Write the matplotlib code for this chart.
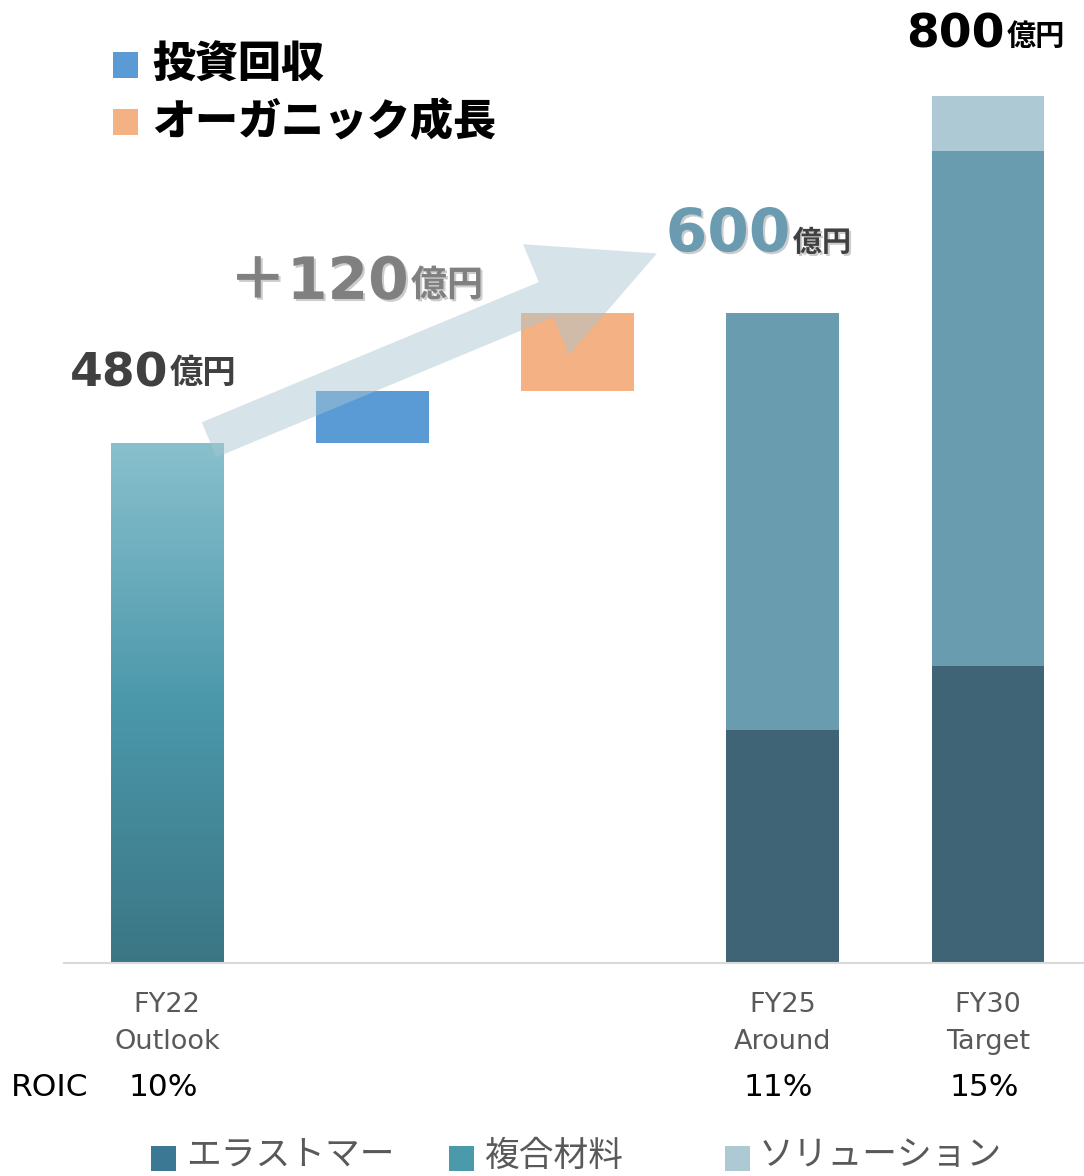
import numpy as np
import matplotlib
matplotlib.use("Agg")
import matplotlib.pyplot as plt
import matplotlib.patheffects as pe
from matplotlib.colors import LinearSegmentedColormap
from matplotlib.patches import Rectangle, Polygon
from matplotlib.transforms import blended_transform_factory

# ---- data (億円) ----
fy22_total = 480
bridge_labels = ["投資回収", "オーガニック成長"]
bridge_values = [48, 72]
bridge_colors = ["#5b9bd5", "#f4b183"]
segments = ["エラストマー", "複合材料", "ソリューション"]
seg_colors = ["#3e6475", "#699caf", "#adc9d4"]
legend_colors = ["#3a7893", "#4a9aab", "#adc9d4"]
fy25_values = [215, 385, 0]
fy30_values = [274, 476, 50]
tick_pos = [0, 3, 4]
tick_labels = ["FY22\nOutlook", "FY25\nAround", "FY30\nTarget"]
roic_values = ["10%", "11%", "15%"]

W_PX, H_PX = 1084, 1176
JP = "Noto Sans CJK JP"
NUM = ["DejaVu Sans", JP]
BAR_W = 0.55


def fx(x):
    return x / W_PX


def fy(y):
    return 1 - y / H_PX


fig = plt.figure(figsize=(W_PX / 100, H_PX / 100), dpi=100)
ax = fig.add_axes([fx(64), fy(963), 1 - fx(64), 963 / H_PX])
ax.set_xlim(-0.502, 4.468)
ax.set_ylim(0, 889)

# FY22 bar with vertical gradient
bar0 = ax.bar(0, fy22_total, width=BAR_W, color="none", zorder=2)[0]
grad = LinearSegmentedColormap.from_list("g", ["#3b7684", "#4b98ab", "#89c0cd"])
img = ax.imshow(np.linspace(0, 1, 256).reshape(-1, 1), cmap=grad, origin="lower",
                aspect="auto", extent=(-BAR_W / 2, BAR_W / 2, 0, fy22_total), zorder=2)
img.set_clip_path(bar0)

# bridge bars
bottom = fy22_total
for i, (v, c) in enumerate(zip(bridge_values, bridge_colors)):
    ax.bar(i + 1, v, bottom=bottom, width=BAR_W, color=c, zorder=2)
    bottom += v

# stacked target bars
for x, vals in [(3, fy25_values), (4, fy30_values)]:
    b = 0
    for v, c in zip(vals, seg_colors):
        if v:
            ax.bar(x, v, bottom=b, width=BAR_W, color=c, zorder=2)
        b += v

# growth arrow (built in pixel space from two data anchors)
tail = ax.transData.transform((0.205, 483))
tip = ax.transData.transform((2.387, 655))
d = (tip - tail) / np.hypot(*(tip - tail))
n = np.array([-d[1], d[0]])
shaft, head_w, head_l = 19, 60, 120
base = tip - d * head_l
verts = [tail + n * shaft, base + n * shaft, base + n * head_w, tip,
         base - n * head_w, base - n * shaft, tail - n * shaft]
verts = ax.transData.inverted().transform(np.array(verts))
ax.add_patch(Polygon(verts, closed=True, facecolor="#a8c6d2", edgecolor="none",
                     alpha=0.47, zorder=3))

# axis styling
for s in ["top", "right", "left"]:
    ax.spines[s].set_visible(False)
ax.spines["bottom"].set_color("#d9d9d9")
ax.spines["bottom"].set_linewidth(1.5)
ax.set_yticks([])
ax.set_xticks(tick_pos, tick_labels)
ax.tick_params(axis="x", length=0, pad=21, labelsize=19.5, labelcolor="#595959")
for t in ax.get_xticklabels():
    t.set_linespacing(1.55)

# value labels
shadow = [pe.withSimplePatchShadow(offset=(1.5, -1.5), shadow_rgbFace="#000000", alpha=0.2)]


def value_label(x, y, num, unit, size, usize, color, ucolor, effects=None):
    t = ax.text(x, y, num, fontsize=size, fontweight="bold", color=color,
                family=NUM, ha="left", va="baseline", zorder=5, path_effects=effects)
    ax.annotate(unit, xy=(1, 0), xycoords=t, xytext=(1.5, 5), textcoords="offset points",
                fontsize=usize, fontweight="bold", color=ucolor, family=JP,
                ha="left", va="bottom", zorder=5, path_effects=effects)


value_label(-0.475, 532, "480", "億円", 34, 24, "#404040", "#404040")
value_label(0.3, 613, "＋120", "億円", 42, 26, "#808080", "#808080", shadow)
value_label(2.43, 657, "600", "億円", 43, 21, "#6a9bb0", "#404040", shadow)
value_label(3.6, 845, "800", "億円", 34, 21, "#000000", "#000000")

# ROIC row
tr = blended_transform_factory(ax.transData, fig.transFigure)
fig.text(fx(11), fy(1087), "ROIC", fontsize=22.5, color="black", ha="left", va="center")
for x, r in zip(tick_pos, roic_values):
    ax.text(x - 0.02, fy(1087), r, transform=tr, fontsize=22.5, color="black",
            ha="center", va="center")

# top legend (bridge items)
for (lab, c), y in zip(zip(bridge_labels, bridge_colors), [65, 122]):
    fig.patches.append(Rectangle((fx(113), fy(y + 12.5)), fx(25), 25 / H_PX,
                                 transform=fig.transFigure, facecolor=c, edgecolor="none"))
    fig.text(fx(152), fy(y), lab, fontsize=31, fontweight="black", family=JP,
             color="black", ha="left", va="center")

# bottom legend (segments)
for lab, c, sx, tx in zip(segments, legend_colors, [151, 449, 725], [186, 484, 759]):
    fig.patches.append(Rectangle((fx(sx), fy(1171)), fx(25), 25 / H_PX,
                                 transform=fig.transFigure, facecolor=c, edgecolor="none"))
    fig.text(fx(tx), fy(1156), lab, fontsize=25, family=JP, color="#595959",
             ha="left", va="center")

fig.savefig("out.png", dpi=100)
